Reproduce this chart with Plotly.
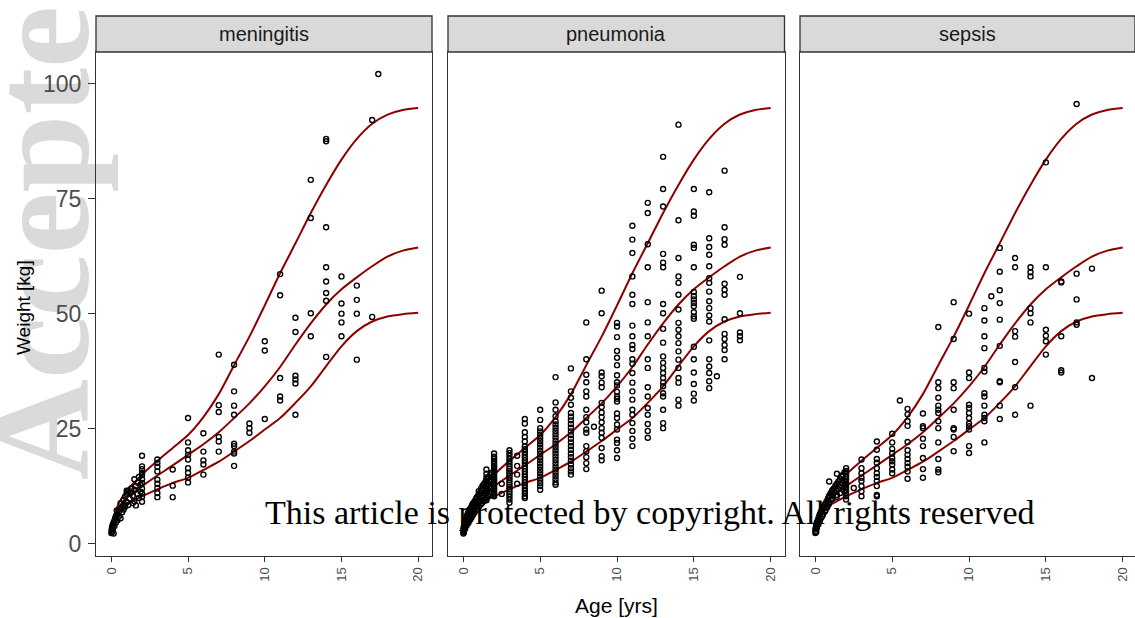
import plotly.graph_objects as go

# ---------------- reference percentile curves (age in years, weight in kg)
CURVE_AGE = [0, 0.25, 0.5, 1, 1.5, 2, 3, 4, 5, 6, 7, 8, 9, 10, 11, 12, 13, 14, 15, 16, 17, 18, 19, 20]
CURVE_HI = [4.0, 6.8, 8.8, 11.5, 13.3, 15.0, 18.0, 20.8, 23.6, 27.5, 32.5, 38.8, 45.0, 51.8, 58.8, 65.3, 71.9, 78.0, 83.5, 88.0, 91.3, 93.3, 94.3, 94.7]
CURVE_MID = [3.4, 6.0, 7.8, 10.0, 11.3, 12.5, 14.8, 17.0, 19.3, 21.6, 24.2, 27.3, 30.5, 34.2, 38.4, 43.3, 47.9, 52.0, 55.3, 57.9, 60.3, 62.4, 63.7, 64.4]
CURVE_LO = [2.8, 5.2, 6.7, 8.5, 9.4, 10.3, 11.8, 13.2, 14.3, 16.0, 17.8, 20.0, 22.3, 24.8, 27.3, 30.6, 34.2, 38.6, 42.9, 46.2, 48.3, 49.4, 49.9, 50.2]

PANELS = ["meningitis", "pneumonia", "sepsis"]

# ---------------- meningitis
MEN_COL_AGES = [2, 3, 4, 5, 6, 7, 8, 9, 10, 11, 12, 13, 14, 15, 16, 17, 17.4]
MEN_COL_WTS = [
    [19.1, 16.8, 16.2, 15.4, 14.9, 14.0, 13.2, 12.0, 10.9, 10.2, 9.1],
    [18.3, 17.5, 16.7, 15.7, 13.9, 13.0, 12.1, 11.0, 10.1],
    [16.1, 12.6, 10.1],
    [27.3, 22.0, 20.3, 19.3, 18.3, 16.4, 15.4, 14.3, 13.3],
    [24.0, 20.0, 18.1, 17.2, 15.0],
    [41.1, 30.1, 28.6, 23.2, 22.2, 20.0],
    [38.9, 33.1, 30.0, 28.0, 21.7, 21.2, 20.0, 19.6, 16.9],
    [26.1, 25.1, 24.1],
    [44.0, 42.0, 27.1],
    [58.6, 54.0, 36.0, 32.0, 31.1],
    [49.1, 46.0, 36.5, 35.7, 34.8, 28.0],
    [79.1, 70.8, 50.1, 45.1],
    [88.0, 87.5, 68.8, 60.1, 57.0, 54.5, 52.8, 40.6],
    [58.1, 52.2, 50.0, 48.1, 45.1],
    [56.1, 53.0, 50.0, 40.0],
    [92.1, 49.3],
    [102.1],
]
MEN_INF_AGE = [0.0, 0.02, 0.03, 0.05, 0.05, 0.08, 0.1, 0.1, 0.15, 0.2, 0.2, 0.25, 0.3, 0.3, 0.4, 0.4, 0.5, 0.5,
               0.6, 0.6, 0.7, 0.75, 0.8, 0.8, 0.9, 1.0, 1.0, 1.0, 1.1, 1.2, 1.25, 1.3, 1.4, 1.5, 1.5, 1.6,
               1.7, 1.75, 1.8, 1.9, 1.9, 1.1, 0.9, 1.4, 0.6, 1.6, 0.35, 0.15, 1.5, 1.8]
MEN_INF_WT = [2.3, 2.8, 3.2, 3.5, 2.6, 3.9, 4.2, 3.1, 4.6, 5.0, 3.8, 5.5, 4.6, 6.0, 6.3, 5.1, 7.0, 6.0,
              7.6, 8.8, 6.8, 8.2, 9.5, 7.4, 10.2, 9.0, 10.8, 11.5, 8.4, 9.8, 11.0, 12.0, 10.4, 9.2, 11.7, 12.5,
              10.8, 13.2, 9.9, 11.3, 12.8, 11.5, 8.0, 8.8, 5.5, 8.3, 7.2, 2.2, 14.0, 14.5]

# ---------------- pneumonia
PNE_COL_AGES = [1.5, 2, 2.5, 3, 3.5, 4, 5, 6, 7, 8, 8.5, 9, 10, 11, 12, 13, 14, 15, 16, 16.5, 17, 18]
PNE_COL_WTS = [
    [16.1, 15.2, 14.4, 13.6, 12.9, 12.1, 11.4, 10.7, 10.0, 9.4],
    [19.6, 18.9, 18.4, 17.9, 17.5, 17.0, 16.6, 16.2, 15.8, 15.4, 15.0, 14.6, 14.2, 13.8, 13.4, 13.0, 12.6, 12.2, 11.8, 11.4, 11.0, 10.6, 10.3],
    [13.0, 10.8],
    [20.3, 19.7, 19.1, 18.5, 17.9, 17.3, 16.8, 16.3, 15.8, 15.3, 14.8, 14.3, 13.8, 13.3, 12.8, 12.3, 11.8, 11.3, 10.8, 10.2, 9.6, 8.9],
    [19.1, 16.9, 15.0, 13.0],
    [27.1, 26.1, 24.2, 23.2, 22.2, 21.1, 20.5, 19.9, 19.3, 18.7, 18.1, 17.5, 16.9, 16.3, 15.7, 15.1, 14.5, 13.9, 13.3, 12.7, 12.1, 11.5, 10.9, 10.3, 9.9],
    [29.1, 26.9, 25.1, 24.4, 23.7, 23.0, 22.3, 21.6, 20.9, 20.2, 19.5, 18.8, 18.1, 17.4, 16.7, 16.0, 15.3, 14.6, 13.9, 13.2, 12.5, 11.7],
    [36.2, 30.7, 29.1, 27.7, 26.6, 25.9, 25.2, 24.5, 23.8, 23.1, 22.4, 21.7, 21.0, 20.3, 19.6, 18.9, 18.2, 17.5, 16.8, 16.1, 15.4, 14.7, 14.0, 13.3, 12.8],
    [38.1, 33.1, 31.7, 30.2, 28.4, 27.6, 26.8, 26.0, 25.2, 24.4, 23.6, 22.8, 22.0, 21.2, 20.4, 19.6, 18.8, 18.0, 17.2, 16.4, 15.7, 15.0],
    [48.1, 40.1, 36.7, 35.1, 33.1, 32.0, 29.1, 27.5, 26.4, 24.8, 24.1, 21.2, 20.1, 18.8, 17.5, 16.2],
    [25.4],
    [55.0, 50.1, 37.2, 36.4, 35.0, 34.0, 30.6, 29.7, 28.5, 27.5, 26.4, 25.1, 24.1, 23.0, 20.8, 19.0, 18.1],
    [48.0, 47.2, 44.9, 41.9, 40.4, 38.8, 36.6, 35.1, 34.4, 33.0, 32.0, 31.5, 30.9, 28.3, 27.3, 25.9, 24.8, 22.6, 21.9, 20.3, 18.6],
    [69.1, 66.1, 63.2, 58.1, 54.1, 52.1, 47.4, 45.1, 43.2, 42.3, 40.1, 39.1, 37.1, 35.0, 33.1, 31.3, 29.1, 28.0, 26.2, 24.5, 22.8, 21.2],
    [74.1, 71.9, 65.1, 60.1, 52.5, 48.1, 45.1, 40.1, 38.2, 34.0, 32.0, 29.5, 28.0, 26.0, 24.5, 23.0],
    [84.1, 77.1, 73.3, 63.0, 61.1, 60.1, 52.1, 50.1, 46.7, 43.7, 40.7, 39.3, 38.2, 37.1, 36.0, 35.0, 34.2, 32.7, 32.0, 29.1, 26.2, 25.1],
    [91.1, 70.3, 62.1, 58.1, 56.7, 54.1, 50.9, 48.0, 46.5, 45.1, 43.6, 41.8, 40.0, 38.2, 36.0, 35.0, 31.3, 30.0],
    [77.1, 72.2, 71.3, 65.0, 64.3, 60.1, 54.7, 53.8, 53.1, 52.3, 51.6, 50.3, 49.4, 48.9, 42.8, 40.1, 37.2, 34.7, 32.6, 31.1],
    [76.4, 66.4, 64.5, 62.8, 60.3, 57.7, 56.7, 54.8, 52.7, 51.2, 49.6, 48.3, 44.2, 40.1, 38.5, 37.1, 35.3, 33.8],
    [36.4],
    [81.1, 68.8, 66.2, 65.0, 56.5, 55.2, 54.1, 48.8, 45.6, 44.5, 43.2, 42.1, 40.1],
    [58.0, 50.1, 45.9, 45.1, 44.2],
]
PNE_INF_AGE = [0.0, 0.0, 0.01, 0.02, 0.03, 0.04, 0.05, 0.06, 0.08, 0.1, 0.1, 0.12, 0.15, 0.18, 0.2, 0.2, 0.25, 0.25,
               0.3, 0.3, 0.35, 0.4, 0.4, 0.45, 0.5, 0.5, 0.55, 0.6, 0.6, 0.65, 0.7, 0.7, 0.75, 0.8, 0.8, 0.85,
               0.9, 0.9, 0.95, 1.0, 1.0, 1.0, 1.05, 1.1, 1.1, 1.15, 1.2, 1.2, 1.25, 1.3, 1.3, 1.35, 1.4, 1.4,
               1.45, 1.5, 1.55, 1.6, 1.6, 1.65, 1.7, 1.7, 1.75, 1.8, 1.8, 1.85, 1.9, 1.9, 0.05, 0.12, 0.22,
               0.33, 0.42, 0.52, 0.62, 0.72, 0.82, 0.92, 1.02, 1.12, 1.22, 1.32, 1.42, 1.52, 1.62, 1.72, 1.82]
PNE_INF_WT = [2.2, 3.0, 2.6, 3.4, 2.4, 3.8, 4.1, 3.0, 4.4, 4.8, 3.6, 5.0, 5.3, 4.2, 5.8, 4.6, 6.2, 5.0,
              6.6, 5.4, 7.0, 7.4, 5.9, 7.1, 7.8, 6.4, 8.2, 8.6, 7.0, 8.0, 9.0, 7.5, 8.6, 9.4, 8.0, 9.8,
              10.1, 8.4, 9.2, 10.6, 9.0, 11.4, 10.0, 11.0, 9.4, 12.0, 11.5, 10.2, 12.6, 12.0, 10.6, 13.0, 12.4, 11.0,
              13.5, 12.8, 14.0, 13.2, 11.6, 14.4, 13.6, 12.0, 15.0, 14.0, 12.4, 15.4, 14.6, 13.0, 2.8, 3.3, 4.0,
              4.5, 5.2, 5.6, 6.2, 6.7, 7.2, 7.6, 8.0, 8.5, 8.8, 9.2, 9.6, 10.0, 10.4, 10.8, 11.2]

# ---------------- sepsis
SEP_COL_AGES = [2, 2.5, 3, 4, 5, 5.5, 6, 7, 8, 9, 10, 11, 11.45, 12, 13, 14, 15, 16, 17, 18]
SEP_COL_WTS = [
    [16.4, 15.8, 15.2, 14.6, 14.0, 13.4, 12.8, 12.2, 11.6, 11.0, 10.3, 9.6],
    [12.1],
    [18.3, 16.4, 15.3, 14.3, 13.6, 12.5, 11.4, 10.3],
    [22.2, 20.4, 18.4, 17.6, 16.4, 15.3, 14.5, 13.6, 12.5, 10.6, 10.3],
    [23.9, 22.0, 20.6, 19.6, 18.6, 17.9, 17.2, 16.1, 15.3],
    [31.1],
    [29.3, 28.1, 26.6, 25.6, 22.1, 20.3, 19.3, 18.4, 17.5, 16.7, 15.7, 14.1],
    [28.3, 25.5, 25.1, 22.8, 21.2, 18.6, 16.2, 14.3],
    [47.1, 35.1, 33.8, 31.7, 30.0, 29.1, 28.4, 26.6, 25.1, 22.0, 18.4, 16.1, 15.5],
    [52.5, 44.5, 35.1, 33.8, 29.1, 25.1, 24.8, 23.2, 20.1],
    [50.0, 37.2, 36.0, 30.2, 29.5, 28.4, 27.3, 26.1, 25.5, 24.8, 21.2, 19.7],
    [51.2, 48.5, 45.1, 42.5, 38.2, 37.4, 32.7, 32.0, 30.0, 28.0, 27.3, 26.6, 22.0],
    [53.8],
    [64.3, 59.1, 55.1, 52.3, 48.7, 43.0, 35.3, 35.1, 30.0, 27.1],
    [62.1, 60.1, 46.2, 45.0, 39.5, 34.0, 28.0],
    [60.1, 59.0, 58.1, 51.2, 50.1, 48.1, 30.0],
    [82.9, 60.1, 46.5, 45.2, 44.0, 41.1],
    [57.0, 56.8, 45.1, 37.7, 37.2],
    [95.6, 58.7, 53.1, 48.1, 47.6],
    [59.8, 36.0],
]
SEP_INF_AGE = [0.0, 0.0, 0.02, 0.03, 0.05, 0.06, 0.08, 0.1, 0.1, 0.15, 0.2, 0.2, 0.25, 0.3, 0.3, 0.35, 0.4, 0.45,
               0.5, 0.5, 0.55, 0.6, 0.65, 0.7, 0.75, 0.8, 0.8, 0.85, 0.9, 0.9, 1.0, 1.0, 1.05, 1.1, 1.15, 1.2,
               1.25, 1.3, 1.35, 1.4, 1.4, 1.5, 1.5, 1.55, 1.6, 1.65, 1.7, 1.75, 1.8, 1.85, 1.9, 1.9, 0.12,
               0.38, 0.62, 0.88, 1.12, 1.38, 1.62, 1.88, 0.9, 1.4]
SEP_INF_WT = [2.3, 3.1, 2.7, 3.5, 3.9, 2.5, 4.3, 4.6, 3.4, 5.0, 5.5, 4.2, 6.0, 6.4, 5.0, 6.8, 7.2, 6.0,
              7.6, 6.4, 8.0, 8.4, 7.2, 8.8, 7.8, 9.4, 8.2, 10.0, 9.0, 10.4, 11.0, 9.6, 10.4, 11.6, 10.8, 12.0,
              11.2, 12.6, 11.6, 13.0, 10.6, 13.5, 11.8, 12.4, 14.0, 12.8, 14.6, 13.2, 15.0, 13.8, 15.5, 12.6, 4.0,
              5.6, 7.0, 8.6, 9.8, 10.2, 11.0, 11.4, 13.5, 15.2]

PANEL_DATA = [
    (MEN_COL_AGES, MEN_COL_WTS, MEN_INF_AGE, MEN_INF_WT),
    (PNE_COL_AGES, PNE_COL_WTS, PNE_INF_AGE, PNE_INF_WT),
    (SEP_COL_AGES, SEP_COL_WTS, SEP_INF_AGE, SEP_INF_WT),
]

X_TICKS = [0, 5, 10, 15, 20]
Y_TICKS = [0, 25, 50, 75, 100]

# ---------------- layout geometry (pixels)
W, H = 1135, 618
PANEL_X = [(96, 432), (448, 784.5), (800, 1135)]
X_RANGES = [[-1.0, 20.9], [-1.0, 20.9], [-1.0, 20.8]]
PANEL_TOP, PANEL_BOTTOM = 52, 556
STRIP_TOP = 16

def px(x):
    return x / W

def py(y):
    return 1 - y / H

fig = go.Figure()
RED = "#8B0000"
AX = "#333333"

for i, (col_ages, col_wts, inf_age, inf_wt) in enumerate(PANEL_DATA):
    xa = "x" if i == 0 else f"x{i+1}"
    ya = "y" if i == 0 else f"y{i+1}"
    for curve in (CURVE_HI, CURVE_MID, CURVE_LO):
        fig.add_trace(go.Scatter(x=CURVE_AGE, y=curve, mode="lines",
                                 line=dict(color=RED, width=2, shape="spline", smoothing=0.8),
                                 xaxis=xa, yaxis=ya, showlegend=False, hoverinfo="skip"))
    xs, ys = list(inf_age), list(inf_wt)
    for a, ws in zip(col_ages, col_wts):
        xs += [a] * len(ws)
        ys += ws
    fig.add_trace(go.Scatter(x=xs, y=ys, mode="markers",
                             marker=dict(symbol="circle-open", size=5, color="black",
                                         line=dict(width=1.4, color="black")),
                             xaxis=xa, yaxis=ya, showlegend=False))

axis_common = dict(showline=True, mirror=True, linecolor=AX, linewidth=1.3,
                   showgrid=False, zeroline=False, ticks="outside", ticklen=5,
                   tickwidth=1.3, tickcolor=AX)

layout = dict(width=W, height=H, margin=dict(l=0, r=0, t=0, b=0),
              paper_bgcolor="white", plot_bgcolor="rgba(0,0,0,0)",
              font=dict(family="Liberation Sans, Arial, sans-serif"), showlegend=False)

for i, (x0, x1) in enumerate(PANEL_X):
    sx = "xaxis" if i == 0 else f"xaxis{i+1}"
    sy = "yaxis" if i == 0 else f"yaxis{i+1}"
    ya = "y" if i == 0 else f"y{i+1}"
    xa = "x" if i == 0 else f"x{i+1}"
    layout[sx] = dict(axis_common, domain=[px(x0), min(1.0, px(x1))], range=X_RANGES[i], anchor=ya,
                      tickvals=X_TICKS, ticktext=[str(v) for v in X_TICKS], tickangle=-90,
                      tickfont=dict(size=13, color="#4D4D4D"))
    layout[sy] = dict(axis_common, domain=[py(PANEL_BOTTOM), py(PANEL_TOP)], range=[-2.7, 106.9],
                      anchor=xa, tickvals=Y_TICKS, ticklen=7, ticklabelstandoff=2,
                      showticklabels=(i == 0), ticks=("outside" if i == 0 else ""),
                      tickfont=dict(size=23, color="#4D4D4D"))

shapes = []
annotations = []
# watermark, drawn underneath the panels
shapes.append(dict(type="rect", xref="paper", yref="paper", layer="below",
                   x0=px(-125), x1=px(175), y0=py(504), y1=py(-96),
                   line=dict(width=0), fillcolor="rgba(0,0,0,0)",
                   label=dict(text="<b>Accepted</b>", textangle=-90, textposition="middle center",
                              font=dict(family="Liberation Serif", size=140, color="#DADADA"))))
for i, (x0, x1) in enumerate(PANEL_X):
    shapes.append(dict(type="rect", xref="paper", yref="paper",
                       x0=px(x0), x1=px(x1), y0=py(PANEL_TOP), y1=py(STRIP_TOP),
                       fillcolor="#D9D9D9", line=dict(color=AX, width=1.3)))
    annotations.append(dict(xref="paper", yref="paper", x=px((x0 + x1) / 2), y=py((STRIP_TOP + PANEL_TOP) / 2),
                            text=PANELS[i], showarrow=False, xanchor="center", yanchor="middle",
                            font=dict(size=20, color="#1A1A1A")))

annotations.append(dict(xref="paper", yref="paper", x=px(616), y=py(605), text="Age [yrs]",
                        showarrow=False, xanchor="center", yanchor="middle",
                        font=dict(size=21, color="black")))
annotations.append(dict(xref="paper", yref="paper", x=px(23), y=py(308), text="Weight [kg]",
                        showarrow=False, xanchor="center", yanchor="middle", textangle=-90,
                        font=dict(size=19, color="black")))
annotations.append(dict(xref="paper", yref="paper", x=px(650), y=py(512),
                        text="This article is protected by copyright. All rights reserved",
                        showarrow=False, xanchor="center", yanchor="middle",
                        font=dict(family="Liberation Serif", size=34, color="black")))

layout["shapes"] = shapes
layout["annotations"] = annotations
fig.update_layout(**layout)
fig.write_html("out.html")
